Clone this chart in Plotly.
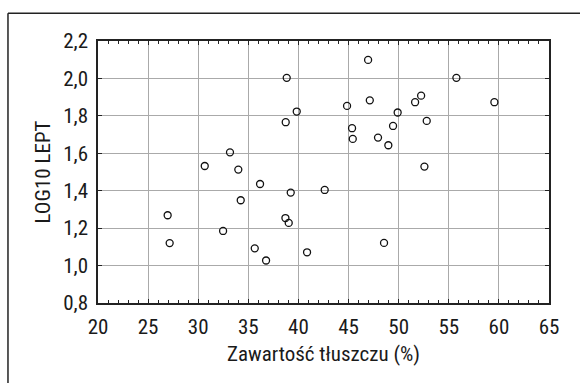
import plotly.graph_objects as go

fat = [26.95, 27.15, 46.95, 38.83, 47.12, 39.83, 44.85, 49.9, 38.73, 45.35,
       45.42, 47.94, 48.97, 49.44, 33.17, 30.65, 34.0, 36.17, 39.23, 42.62,
       34.24, 55.76, 59.55, 52.24, 51.64, 52.8, 52.57, 38.7, 39.03, 32.48,
       35.64, 36.77, 40.86, 48.54]
lept = [1.269, 1.12, 2.099, 2.003, 1.883, 1.823, 1.853, 1.818, 1.766, 1.734,
        1.677, 1.684, 1.643, 1.746, 1.605, 1.532, 1.513, 1.436, 1.39, 1.404,
        1.349, 2.003, 1.873, 1.908, 1.873, 1.773, 1.529, 1.254, 1.228, 1.185,
        1.092, 1.027, 1.071, 1.121]

x_title = "Zawartość tłuszczu (%)"
y_title = "LOG10 LEPT"

FONT = "Liberation Sans Narrow, Roboto Condensed, Arial Narrow, sans-serif"
FS = 21

fig = go.Figure()
fig.add_trace(go.Scatter(
    x=fat, y=lept, mode="markers",
    marker=dict(symbol="circle-open", size=7, color="#111", line=dict(width=1.3)),
    showlegend=False, hoverinfo="skip"))

axis_common = dict(
    showline=True, linecolor="#222", linewidth=1.5, mirror="allticks",
    ticks="inside", ticklen=4, tickcolor="#222", tickwidth=1,
    showgrid=True, gridcolor="#aaaaaa", gridwidth=1, zeroline=False,
    tickfont=dict(family=FONT, size=FS, color="#1a1a1a"),
    ticklabelstandoff=4,
)

fig.update_xaxes(range=[20, 65], dtick=5, tick0=20,
                 minor=dict(dtick=1, ticks="inside", ticklen=3, tickcolor="#222", showgrid=False),
                 title=dict(text=x_title, font=dict(family=FONT, size=FS, color="#1a1a1a"), standoff=8),
                 **axis_common)
fig.update_yaxes(range=[0.8, 2.2], dtick=0.2, tick0=0.8, tickformat=".1f",
                 title=dict(text=y_title, font=dict(family=FONT, size=FS, color="#1a1a1a"), standoff=7),
                 **axis_common)

# outer frame (left and top)
fig.add_shape(type="line", xref="paper", yref="paper", x0=-0.1996, x1=1.07, y0=1.1057, y1=1.1057,
              line=dict(color="#222", width=1.5))
fig.add_shape(type="line", xref="paper", yref="paper", x0=-0.1996, x1=-0.1996, y0=1.1057, y1=-0.31,
              line=dict(color="#222", width=1.5))

fig.update_layout(
    width=580, height=383,
    margin=dict(l=98, r=31, t=41, b=80),
    paper_bgcolor="white", plot_bgcolor="white",
    separators=", ",
    font=dict(family=FONT, color="#1a1a1a"),
)

fig.write_html("out.html")
